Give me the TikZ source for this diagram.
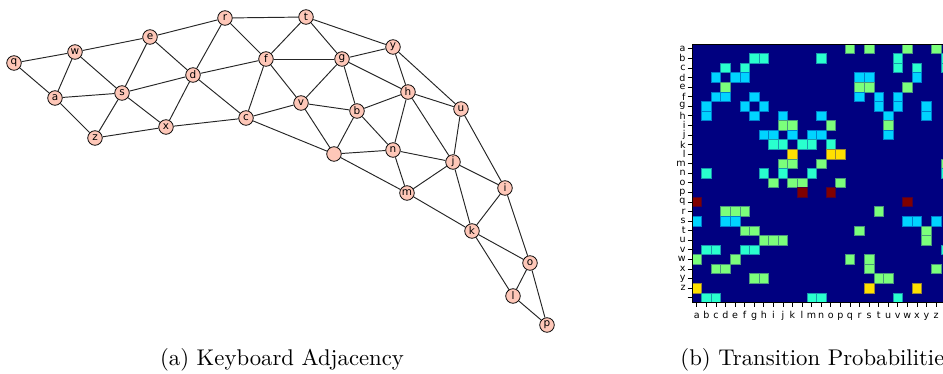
\documentclass[tikz,border=0pt]{standalone}
\usepackage{fontspec}
\newfontfamily\lblfont{DejaVu Sans}
\definecolor{nodefill}{RGB}{254,199,184}
\definecolor{jetbg}{RGB}{0,0,128}
\definecolor{jetsix}{RGB}{0,212,255}
\definecolor{jetfive}{RGB}{41,255,206}
\definecolor{jetfour}{RGB}{123,255,123}
\definecolor{jetthree}{RGB}{255,224,0}
\definecolor{jettwo}{RGB}{128,0,0}
\newcommand\mrow[3]{\foreach \cc in {#3}{\fill[#2,draw=#2!60!jetbg,line width=0.2pt] ({692+\cc*9.57},{44+#1*9.57}) rectangle ++(9.57,9.57);}}
\begin{document}
\begin{tikzpicture}[x=0.44pt,y=-0.44pt,
  vtx/.style={circle,draw=black,line width=0.35pt,fill=nodefill,inner sep=0pt,minimum size=6.4pt,font=\lblfont\fontsize{4.6}{5}\selectfont},
  edge/.style={draw=black!85,line width=0.42pt},
  ticklbl/.style={font=\lblfont\fontsize{4.2}{4.6}\selectfont,inner sep=0pt},
  capt/.style={font=\fontsize{10}{12}\selectfont,inner sep=0pt,anchor=base}]
\useasboundingbox (0,0) rectangle (943,373);
% ---------- graph ----------
\node[vtx] (q) at (14,63) {q};
\node[vtx] (w) at (75,52) {w};
\node[vtx] (e) at (150,37) {e};
\node[vtx] (r) at (225,18) {r};
\node[vtx] (t) at (306,17) {t};
\node[vtx] (y) at (393,47) {y};
\node[vtx] (a) at (55,98) {a};
\node[vtx] (s) at (122,93) {s};
\node[vtx] (d) at (193,75) {d};
\node[vtx] (f) at (266,59) {f};
\node[vtx] (g) at (342,59) {g};
\node[vtx] (h) at (408,92) {h};
\node[vtx] (u) at (461,109) {u};
\node[vtx] (z) at (95,138) {z};
\node[vtx] (x) at (166,127) {x};
\node[vtx] (c) at (246,118) {c};
\node[vtx] (v) at (301,103) {v};
\node[vtx] (b) at (357,111) {b};
\node[vtx] (n) at (393,150) {n};
\node[vtx] (sp) at (334,154) {};
\node[vtx] (j) at (453,162) {j};
\node[vtx] (i) at (505,188) {i};
\node[vtx] (m) at (407,193) {m};
\node[vtx] (k) at (472,231) {k};
\node[vtx] (o) at (530,263) {o};
\node[vtx] (l) at (513,296) {l};
\node[vtx] (p) at (547,325) {p};
\foreach \u/\v in {q/w,q/a,w/a,w/s,w/e,e/s,e/d,e/r,r/d,r/f,r/t,t/f,t/g,t/y,
  a/s,a/z,s/z,s/x,s/d,d/x,d/c,d/f,f/c,f/v,f/g,z/x,x/c,c/v,c/sp,v/g,v/b,v/sp,
  g/y,g/b,g/h,y/h,y/u,h/b,h/n,h/u,h/j,b/n,b/sp,u/j,u/i,n/sp,n/j,n/m,sp/m,
  j/m,j/i,j/k,m/k,i/k,i/o,k/o,k/l,o/l,o/p,l/p}
  \draw[edge] (\u) -- (\v);
% ---------- matrix ----------
\begin{scope}
\clip (0,0) rectangle (943,373);
\fill[jetbg] (692,44) rectangle ({692+27*9.57},{44+27*9.57});
\mrow{0}{jetfour}{16,18,22,25}
\mrow{1}{jetfive}{6,7,13,21,26}
\mrow{2}{jetfive}{3,5,21,23,26}
\mrow{3}{jetsix}{2,4,5,17,18,23}
\mrow{4}{jetfour}{3,17,18,22}
\mrow{5}{jetsix}{2,3,6,17,19,21}
\mrow{6}{jetsix}{1,5,7,19,21,24}
\mrow{7}{jetsix}{1,6,9,13,20,24}
\mrow{8}{jetfour}{9,10,14,20}
\mrow{9}{jetsix}{7,8,10,12,13,20}
\mrow{10}{jetfive}{8,9,11,12,14}
\mrow{11}{jetthree}{10,14,15}
\mrow{12}{jetfour}{9,10,13,26}
\mrow{13}{jetfive}{1,7,9,12,26}
\mrow{14}{jetfour}{8,10,11,15}
\mrow{15}{jettwo}{11,14}
\mrow{16}{jettwo}{0,22}
\mrow{17}{jetfour}{3,4,5,19}
\mrow{18}{jetsix}{0,3,4,22,23,25}
\mrow{19}{jetfour}{5,6,17,24}
\mrow{20}{jetfour}{7,8,9,24}
\mrow{21}{jetfive}{1,2,5,6,26}
\mrow{22}{jetfour}{0,4,16,18}
\mrow{23}{jetfour}{2,3,18,25}
\mrow{24}{jetfour}{6,7,19,20}
\mrow{25}{jetthree}{0,18,23}
\mrow{26}{jetfive}{1,2,12,13,21}
\draw[black,line width=0.4pt] (692,44) rectangle ({692+27*9.57},{44+27*9.57});
\foreach \i in {0,...,26}{
  \draw[black,line width=0.35pt] (687.5,{44+(\i+0.5)*9.57}) -- (692,{44+(\i+0.5)*9.57});
  \draw[black,line width=0.35pt] ({692+(\i+0.5)*9.57},302.4) -- ({692+(\i+0.5)*9.57},306.9);
}
\foreach \lt [count=\i from 0] in {a,b,c,d,e,f,g,h,i,j,k,l,m,n,o,p,q,r,s,t,u,v,w,x,y,z}{
  \node[ticklbl,anchor=east] (rl\i) at (686,{44+(\i+0.5)*9.57}) {\lt};
  \node[ticklbl,anchor=base] (cl\i) at ({692+(\i+0.5)*9.57},318) {\lt};
}
\end{scope}
% ---------- captions ----------
\node[capt] (capa) at (282,365) {(a) Keyboard Adjacency};
\node[capt,anchor=base west] (capb) at (680,365) {(b) Transition Probabilities};
\end{tikzpicture}
\end{document}
